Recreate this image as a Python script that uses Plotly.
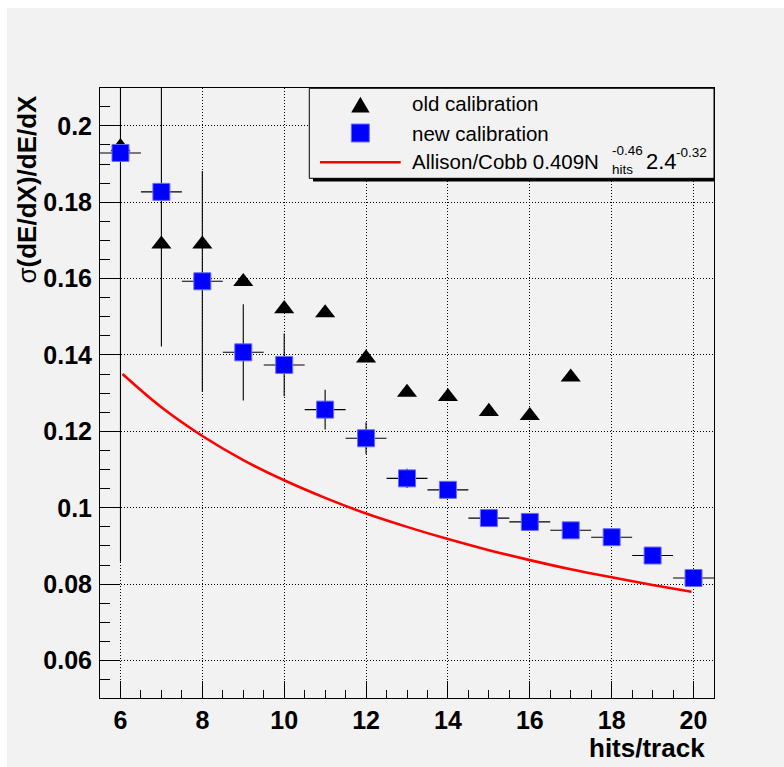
import plotly.graph_objects as go

# ---------------- data ----------------
old_x = [6, 7, 8, 9, 10, 11, 12, 13, 14, 15, 16, 17]
old_y = [0.1945, 0.1690, 0.1690, 0.1592, 0.1521, 0.1510, 0.1392, 0.1302, 0.1291, 0.1252, 0.1241, 0.1342]

new_x = [6, 7, 8, 9, 10, 11, 12, 13, 14, 15, 16, 17, 18, 19, 20]
new_y = [0.1929, 0.1827, 0.1593, 0.1407, 0.1374, 0.1257, 0.1182, 0.1077, 0.1047, 0.0973,
         0.0963, 0.0941, 0.0923, 0.0875, 0.0816]
new_yerr = [0.107, 0.0405, 0.0289, 0.0126, 0.0082, 0.0052, 0.0042, 0.0025, 0.0018, 0.0016,
            0.0015, 0.0014, 0.0013, 0.0012, 0.0011]
new_xerr = [0.5] * 15

fit_x = [6.05, 7, 8, 9, 10, 11, 12, 13, 14, 15, 16, 17, 18, 19, 19.95]
fit_y = [0.1350, 0.1263, 0.1188, 0.1125, 0.1072, 0.1026, 0.0985, 0.0950, 0.0918, 0.0889,
         0.0863, 0.0839, 0.0818, 0.0798, 0.0780]

x_tickvals = [6, 8, 10, 12, 14, 16, 18, 20]
x_ticktext = ["6", "8", "10", "12", "14", "16", "18", "20"]
y_tickvals = [0.06, 0.08, 0.10, 0.12, 0.14, 0.16, 0.18, 0.20]
y_ticktext = ["0.06", "0.08", "0.1", "0.12", "0.14", "0.16", "0.18", "0.2"]

legend_labels = ["old calibration", "new calibration", "Allison/Cobb 0.409N"]

# ---------------- styling ----------------
BG = "#f2f2f2"
FONT = "Liberation Sans"
W, H = 784, 767
L, R, T, B = 100, 70, 88, 69
PW, PH = W - L - R, H - T - B


def px(x):
    return (x - L) / PW


def py(y):
    return (H - B - y) / PH


fig = go.Figure()

# fit curve
fig.add_trace(go.Scatter(x=fit_x, y=fit_y, mode="lines", line=dict(color="#ff0000", width=2.6, shape="spline"),
                         showlegend=False, hoverinfo="skip"))
# old calibration
fig.add_trace(go.Scatter(x=old_x, y=old_y, mode="markers",
                         marker=dict(symbol="triangle-up", size=17.5, color="black", line=dict(width=0)),
                         showlegend=False))
# new calibration
fig.add_trace(go.Scatter(x=new_x, y=new_y, mode="markers",
                         marker=dict(symbol="square", size=17, color="#0000ff", line=dict(color="#6a6aff", width=1)),
                         error_y=dict(type="data", array=new_yerr, color="black", thickness=1.1, width=0),
                         error_x=dict(type="data", array=new_xerr, color="black", thickness=1.1, width=0),
                         showlegend=False, cliponaxis=True))

# invisible trace to activate pixel-coordinate overlay axes for the legend box
fig.add_trace(go.Scatter(x=[L], y=[T], xaxis="x2", yaxis="y2", mode="markers",
                         marker=dict(size=1, opacity=0), showlegend=False, hoverinfo="skip"))

shapes = [
    # canvas grey area
    dict(type="rect", xref="paper", yref="paper", x0=px(7), x1=px(784), y0=py(767), y1=py(8),
         fillcolor=BG, line=dict(width=0), layer="below"),
    # legend shadow
    dict(type="rect", xref="x2", yref="y2", x0=313, x1=717.5, y0=92, y1=181.5,
         fillcolor="black", line=dict(width=0), layer="above"),
    # legend box
    dict(type="rect", xref="x2", yref="y2", x0=309.3, x1=714, y0=88.3, y1=178.3,
         fillcolor=BG, line=dict(color="black", width=1), layer="above"),
    # legend symbols
    dict(type="path", xref="x2", yref="y2", path="M 351.2,112.6 L 369.6,112.6 L 360.4,96.8 Z",
         fillcolor="black", line=dict(width=0), layer="above"),
    dict(type="rect", xref="x2", yref="y2", x0=351.3, x1=369.3, y0=124, y1=142,
         fillcolor="#0000ff", line=dict(color="#6a6aff", width=1), layer="above"),
    dict(type="line", xref="x2", yref="y2", x0=320, x1=400.7, y0=162.3, y1=162.3,
         line=dict(color="#ff0000", width=2.6), layer="above"),
]

ann = []
lf = dict(family=FONT, size=20.5, color="black")
sf = dict(family=FONT, size=13.5, color="black")
ann.append(dict(xref="x2", yref="y2", x=410, y=103.5, text=legend_labels[0], showarrow=False,
                xanchor="left", yanchor="middle", font=lf))
ann.append(dict(xref="x2", yref="y2", x=410, y=133, text=legend_labels[1], showarrow=False,
                xanchor="left", yanchor="middle", font=lf))
ann.append(dict(xref="x2", yref="y2", x=410, y=161.3, text=legend_labels[2], showarrow=False,
                xanchor="left", yanchor="middle", font=lf))
ann.append(dict(xref="x2", yref="y2", x=609.5, y=150.3, text="-0.46", showarrow=False,
                xanchor="left", yanchor="middle", font=sf))
ann.append(dict(xref="x2", yref="y2", x=609.5, y=169.3, text="hits", showarrow=False,
                xanchor="left", yanchor="middle", font=sf))
ann.append(dict(xref="x2", yref="y2", x=643.5, y=161.3, text="2.4", showarrow=False,
                xanchor="left", yanchor="middle", font=dict(family=FONT, size=22, color="black")))
ann.append(dict(xref="x2", yref="y2", x=673.5, y=152.6, text="-0.32", showarrow=False,
                xanchor="left", yanchor="middle", font=sf))

# axis titles
ann.append(dict(xref="paper", yref="paper", x=px(26), y=py(93),
                text="<span style='font-weight:normal'>σ</span>(dE/dX)/dE/dX", textangle=-90,
                showarrow=False, xanchor="center", yanchor="top",
                font=dict(family=FONT, size=26, color="black", weight="bold")))
ann.append(dict(xref="paper", yref="paper", x=px(707), y=py(747.5), text="hits/track",
                showarrow=False, xanchor="right", yanchor="middle",
                font=dict(family=FONT, size=26, color="black", weight="bold")))

tickfont = dict(family=FONT, size=25, color="black", weight="bold")

fig.update_layout(
    width=W, height=H,
    margin=dict(l=L, r=R, t=T, b=B, pad=0),
    paper_bgcolor="white",
    plot_bgcolor=BG,
    shapes=shapes,
    annotations=ann,
    xaxis=dict(range=[5.5, 20.5], tickvals=x_tickvals, ticktext=x_ticktext,
               ticks="inside", ticklen=17, tickwidth=1, tickcolor="black",
               minor=dict(dtick=0.5, tick0=5.5, ticks="inside", ticklen=8, tickwidth=1, tickcolor="black",
                          showgrid=False),
               showgrid=True, gridcolor="black", gridwidth=1, griddash="1px,2px",
               showline=True, linecolor="black", linewidth=1, mirror=True,
               zeroline=False, tickfont=tickfont, ticklabelstandoff=0, fixedrange=True),
    yaxis=dict(range=[0.0502, 0.2099], tickvals=y_tickvals, ticktext=y_ticktext,
               ticks="inside", ticklen=20, tickwidth=1, tickcolor="black",
               minor=dict(dtick=0.005, tick0=0, ticks="inside", ticklen=10, tickwidth=1, tickcolor="black",
                          showgrid=False),
               showgrid=True, gridcolor="black", gridwidth=1, griddash="1px,2px",
               showline=True, linecolor="black", linewidth=1, mirror=True,
               zeroline=False, tickfont=tickfont, ticklabelstandoff=2, fixedrange=True),
    xaxis2=dict(range=[L, W - R], overlaying="x", visible=False, fixedrange=True),
    yaxis2=dict(range=[H - B, T], overlaying="y", visible=False, fixedrange=True),
)

fig.write_html("out.html")
